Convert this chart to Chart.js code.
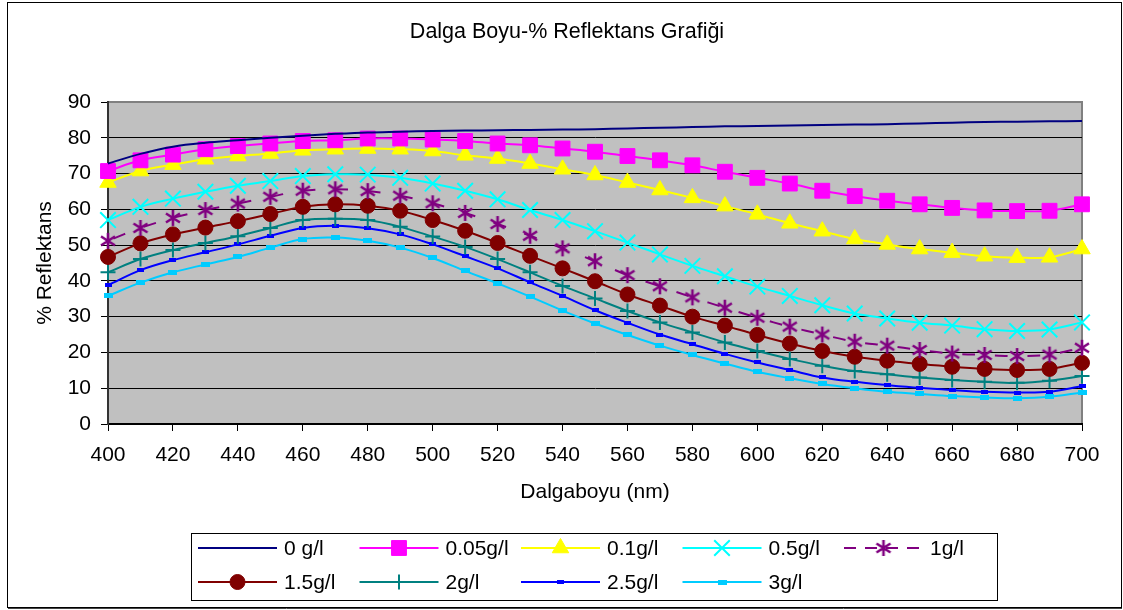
<!DOCTYPE html>
<html>
<head>
<meta charset="utf-8">
<script src="https://cdn.jsdelivr.net/npm/chart.js@4.4.1/dist/chart.umd.min.js"></script>
<style>
body { margin: 0; background: #fff; }
canvas { display: block; }
</style>
</head>
<body>
<canvas id="chart" width="1123" height="610"></canvas>
<script>
// dalga boyu (nm)
var wavelengths = [400, 410, 420, 430, 440, 450, 460, 470, 480, 490, 500, 510, 520, 530, 540, 550,
    560, 570, 580, 590, 600, 610, 620, 630, 640, 650, 660, 670, 680, 690, 700];
var xTicks = [400, 420, 440, 460, 480, 500, 520, 540, 560, 580, 600, 620, 640, 660, 680, 700];
var yTicks = [0, 10, 20, 30, 40, 50, 60, 70, 80, 90];

var chartTitle = 'Dalga Boyu-% Reflektans Grafiği';
var seriesNames = ['0 g/l', '0.05g/l', '0.1g/l', '0.5g/l', '1g/l', '1.5g/l', '2g/l', '2.5g/l', '3g/l'];

// % reflektans
var s0   = [72.8, 75.5, 77.5, 78.6, 79.3, 80.0, 80.6, 81.1, 81.5, 81.7, 81.9, 82.0, 82.1, 82.2, 82.3, 82.4,
    82.6, 82.8, 83.0, 83.2, 83.3, 83.4, 83.6, 83.7, 83.8, 84.0, 84.2, 84.4, 84.5, 84.6, 84.7];
var s005 = [70.7, 73.7, 75.3, 76.8, 77.7, 78.4, 79.1, 79.3, 79.8, 79.8, 79.5, 79.1, 78.4, 77.9, 77.0, 76.1,
    74.9, 73.7, 72.3, 70.5, 68.8, 67.2, 65.2, 63.7, 62.4, 61.4, 60.4, 59.7, 59.5, 59.6, 61.4];
var s01  = [67.5, 70.7, 72.5, 74.0, 74.9, 75.6, 76.5, 76.8, 77.0, 76.8, 76.3, 75.1, 74.2, 72.8, 71.2, 69.6,
    67.5, 65.4, 63.2, 60.9, 58.6, 56.1, 53.9, 51.7, 50.2, 48.9, 47.9, 46.9, 46.5, 46.6, 48.9];
var s05  = [57.0, 60.7, 63.0, 64.9, 66.6, 67.9, 69.3, 69.8, 69.7, 68.8, 67.2, 65.2, 62.8, 59.8, 57.0, 53.9,
    50.7, 47.4, 44.2, 41.3, 38.4, 35.8, 33.2, 30.9, 29.5, 28.3, 27.5, 26.5, 26.0, 26.4, 28.4];
var s1   = [51.2, 54.8, 57.6, 59.8, 61.6, 63.5, 65.2, 65.6, 65.1, 63.8, 61.7, 59.0, 55.9, 52.6, 49.1, 45.5,
    41.6, 38.5, 35.4, 32.5, 29.7, 27.2, 25.0, 23.0, 21.9, 20.7, 19.7, 19.3, 19.0, 19.4, 21.3];
var s15  = [46.7, 50.5, 53.0, 54.9, 56.7, 58.7, 60.7, 61.4, 61.0, 59.6, 57.0, 54.0, 50.6, 47.0, 43.5, 39.9,
    36.2, 33.1, 30.0, 27.5, 24.9, 22.5, 20.4, 18.8, 17.7, 16.8, 16.0, 15.4, 15.1, 15.4, 17.1];
var s2   = [42.4, 46.1, 48.6, 50.6, 52.5, 54.8, 57.0, 57.4, 57.0, 55.1, 52.4, 49.5, 46.1, 42.4, 38.6, 35.1,
    31.6, 28.4, 25.6, 22.8, 20.4, 18.2, 16.3, 14.8, 13.9, 13.0, 12.3, 11.8, 11.5, 12.1, 13.4];
var s25  = [38.8, 43.0, 45.8, 48.0, 50.2, 52.6, 54.8, 55.4, 54.7, 53.0, 50.2, 46.9, 43.5, 39.6, 35.8, 31.8,
    28.3, 25.0, 22.3, 19.6, 17.2, 15.1, 13.0, 11.8, 10.9, 10.1, 9.5, 9.0, 8.8, 9.0, 10.6];
var s3   = [35.8, 39.5, 42.4, 44.6, 46.7, 49.3, 51.7, 52.1, 51.2, 49.3, 46.4, 42.8, 39.3, 35.6, 31.7, 28.1,
    24.9, 21.9, 19.3, 16.9, 14.6, 12.8, 11.2, 10.0, 9.0, 8.4, 7.8, 7.4, 7.2, 7.6, 8.8];

// kucuk isaretler (asterisk ve yatay dikdortgenler)
function starMarker(color) {
    var c = document.createElement('canvas');
    c.width = 18; c.height = 18;
    var g = c.getContext('2d');
    g.strokeStyle = color;
    g.lineWidth = 2.6;
    g.beginPath();
    g.moveTo(9, 1); g.lineTo(9, 17);
    g.moveTo(2, 4.5); g.lineTo(16, 13.5);
    g.moveTo(2, 13.5); g.lineTo(16, 4.5);
    g.stroke();
    return c;
}
function rectMarker(color, w, h) {
    var c = document.createElement('canvas');
    c.width = w; c.height = h;
    var g = c.getContext('2d');
    g.fillStyle = color;
    g.fillRect(0, 0, w, h);
    return c;
}

function pts(vals) {
    return wavelengths.map((w, i) => ({ x: w, y: vals[i] }));
}

function line(idx, vals, color, style, radius, extra) {
    var ds = {
        label: seriesNames[idx],
        data: pts(vals),
        borderColor: color,
        backgroundColor: color,
        borderWidth: 2,
        pointStyle: style,
        pointRadius: radius,
        pointBackgroundColor: color,
        pointBorderColor: color,
        pointBorderWidth: 1,
        tension: 0.35,
        clip: false
    };
    return Object.assign(ds, extra || {});
}

var datasets = [
    line(0, s0, '#000080', false, 0),
    line(1, s005, '#FF00FF', 'rect', 10.5),
    line(2, s01, '#FFFF00', 'triangle', 9.5),
    line(3, s05, '#00FFFF', 'crossRot', 11, { pointBorderWidth: 2 }),
    line(4, s1, '#800080', starMarker('#800080'), 9, { borderDash: [13, 19.6], borderDashOffset: 27 }),
    line(5, s15, '#800000', 'circle', 7.5),
    line(6, s2, '#008080', 'cross', 7.5, { pointBorderWidth: 2 }),
    line(7, s25, '#0000FF', rectMarker('#0000FF', 7, 4), 4),
    line(8, s3, '#00CCFF', rectMarker('#00CCFF', 9, 5), 5)
];

// arka plan, cerceve, baslik
var framePlugin = {
    id: 'frame',
    beforeDraw(chart) {
        var ctx = chart.ctx, a = chart.chartArea;
        ctx.save();
        ctx.fillStyle = '#fff';
        ctx.fillRect(0, 0, chart.width, chart.height);
        ctx.strokeStyle = '#000';
        ctx.lineWidth = 1;
        ctx.strokeRect(7.5, 2.5, 1114, 605);
        ctx.strokeStyle = '#444';
        ctx.beginPath();
        ctx.moveTo(8, 608.5); ctx.lineTo(1122, 608.5);
        ctx.stroke();
        ctx.fillStyle = '#C0C0C0';
        ctx.fillRect(a.left, a.top, a.right - a.left, a.bottom - a.top);
        ctx.strokeStyle = '#808080';
        ctx.lineWidth = 2;
        ctx.strokeRect(a.left, a.top, a.right - a.left, a.bottom - a.top);
        // baslik
        ctx.fillStyle = '#000';
        ctx.font = '21.5px "Liberation Sans", Arial, sans-serif';
        ctx.textAlign = 'center';
        ctx.textBaseline = 'middle';
        ctx.fillText(chartTitle, 567, 32);
        ctx.restore();
    }
};

// lejant kutusu
var legendPlugin = {
    id: 'boxLegend',
    afterDraw(chart) {
        var ctx = chart.ctx;
        ctx.save();
        ctx.strokeStyle = '#000';
        ctx.lineWidth = 1;
        ctx.strokeRect(191.5, 533.5, 806, 67);
        ctx.font = '21px "Liberation Sans", Arial, sans-serif';
        ctx.textBaseline = 'middle';
        ctx.textAlign = 'left';
        chart.data.datasets.forEach((ds, i) => {
            var row = i < 5 ? 0 : 1;
            var col = i < 5 ? i : i - 5;
            var x0 = 198 + col * 161.5;
            var y = row == 0 ? 548 : 582;
            ctx.strokeStyle = ds.borderColor;
            ctx.lineWidth = 2;
            ctx.setLineDash(ds.borderDash ? [12, 9] : []);
            ctx.beginPath();
            ctx.moveTo(x0, y);
            ctx.lineTo(x0 + 79, y);
            ctx.stroke();
            ctx.setLineDash([]);
            if (ds.pointRadius > 0) {
                ctx.fillStyle = ds.pointBackgroundColor;
                ctx.strokeStyle = ds.pointBorderColor;
                ctx.lineWidth = ds.pointBorderWidth;
                Chart.helpers.drawPoint(ctx, {
                    pointStyle: ds.pointStyle,
                    radius: ds.pointRadius,
                    rotation: 0,
                    borderWidth: ds.pointBorderWidth
                }, x0 + 39.5, y);
            }
            ctx.fillStyle = '#000';
            ctx.fillText(ds.label, x0 + 86, y + 1);
        });
        ctx.restore();
    }
};

Chart.defaults.font.family = '"Liberation Sans", Arial, sans-serif';
Chart.defaults.font.size = 21;
Chart.defaults.color = '#000';

var config = {
    type: 'line',
    data: { datasets: datasets },
    options: {
        responsive: false,
        devicePixelRatio: 1,
        animation: false,
        layout: { padding: { left: 0, right: 41, top: 102, bottom: 96 } },
        plugins: {
            legend: { display: false },
            tooltip: { enabled: false },
            title: { display: false }
        },
        scales: {
            x: {
                type: 'linear',
                min: 400,
                max: 700,
                afterBuildTicks: (axis) => { axis.ticks = xTicks.map(v => ({ value: v })); },
                afterFit: (axis) => { axis.height = 90; },
                ticks: { padding: 12, autoSkip: false, maxRotation: 0 },
                grid: { drawOnChartArea: false, drawTicks: true, tickLength: 7, color: '#000', tickWidth: 1 },
                border: { color: '#000', width: 2 },
                title: { display: true, text: 'Dalgaboyu (nm)', padding: { top: 0, bottom: 9.4 } }
            },
            y: {
                min: 0,
                max: 90,
                afterBuildTicks: (axis) => { axis.ticks = yTicks.map(v => ({ value: v })); },
                afterFit: (axis) => { axis.width = 108; },
                ticks: { padding: 10 },
                grid: {
                    color: (c) => (c.tick && c.tick.value == 90 ? 'rgba(0,0,0,0)' : '#000'),
                    tickColor: '#000',
                    tickLength: 7,
                    lineWidth: 1
                },
                border: { color: '#333', width: 2 },
                title: { display: true, text: '% Reflektans', padding: { top: 32.4, bottom: 0 } }
            }
        }
    },
    plugins: [framePlugin, legendPlugin]
};

var chart = new Chart(document.getElementById('chart').getContext('2d'), config);
</script>
</body>
</html>
